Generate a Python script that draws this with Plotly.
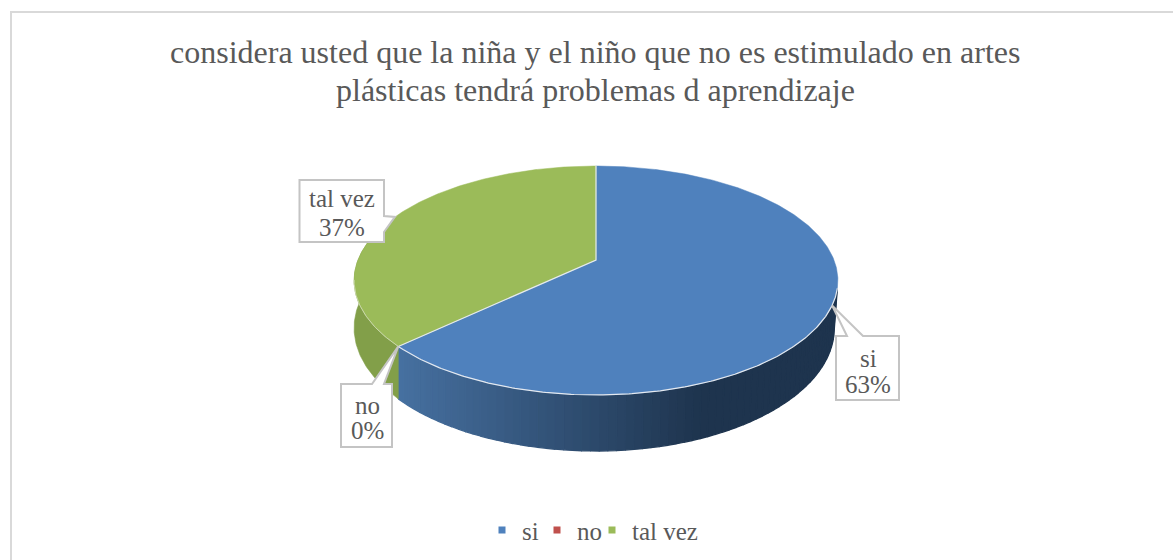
import math
import plotly.graph_objects as go

categories = ["si", "no", "tal vez"]
values = [63, 0, 37]
top_colors = ["#4f81bd", "#c0504d", "#9bbb59"]
title_lines = ["considera usted que la niña y el niño que no es estimulado en artes",
               "plásticas tendrá problemas d aprendizaje"]

W, H = 1173, 560
CX, CY = 596, 260
A, B, K = 238, 110.8, 0.179
DEPTH = 46
TEXT = "#595959"
SERIF = "Liberation Serif"


def project(theta, bottom=False):
    u, v = math.sin(theta), -math.cos(theta)
    s = 1 / (1 - K * v)
    if bottom:
        return CX + A * u * s * (0.985 if u > 0 else 1), CY + (B * v + DEPTH) * s
    return CX + A * u * s, CY + B * v * s


def arc(t0, t1, bottom=False, n=None):
    n = n or max(2, int(abs(t1 - t0) / 0.01))
    return [project(t0 + (t1 - t0) * i / n, bottom) for i in range(n + 1)]


def mix(c0, c1, f):
    return "rgb(%d,%d,%d)" % tuple(round(a + (b - a) * f) for a, b in zip(c0, c1))


total = sum(values)
angles = [0]
for val in values:
    angles.append(angles[-1] + 2 * math.pi * val / total)

fig = go.Figure()


def poly(pts, fill, width=1.3):
    fig.add_trace(go.Scatter(
        x=[p[0] for p in pts] + [pts[0][0]], y=[p[1] for p in pts] + [pts[0][1]],
        mode="lines", fill="toself", fillcolor=fill,
        line=dict(color=fill, width=width),
        hoverinfo="skip", showlegend=False))


def stroke(pts, color="#e4e9f0", width=1.2):
    fig.add_trace(go.Scatter(x=[p[0] for p in pts], y=[p[1] for p in pts], mode="lines",
                             line=dict(color=color, width=width),
                             hoverinfo="skip", showlegend=False))


# side wall, front half only
VIS0, VIS1 = math.radians(104), math.radians(285)
BLUE_L, BLUE_R = (70, 112, 160), (30, 52, 78)
s_end = angles[1]
n_side = 70
for i in range(n_side):
    t0 = VIS0 + (s_end - VIS0) * i / n_side
    t1 = VIS0 + (s_end - VIS0) * (i + 1) / n_side
    xm = project((t0 + t1) / 2)[0]
    f = min(1, max(0, (xm - 400) / (700 - 400)))
    poly(arc(t1, t0, True, n=3) + arc(t0, t1, n=3), mix(BLUE_R, BLUE_L, 1 - f))
poly(arc(angles[2], VIS1) + arc(VIS1, angles[2], True), "#829f49", 0.6)

# top faces
for i, cat in enumerate(categories):
    if values[i] == 0:
        continue
    poly([(CX, CY)] + arc(angles[i], angles[i + 1]), top_colors[i], 0.5)

# light edges: slice dividers and the front rim of the first slice
stroke([project(0), (CX, CY), project(angles[1])])
stroke(arc(math.radians(104), angles[1]))
stroke(arc(angles[1], math.radians(260)), "#d7e0c0", 0.8)

# legend entries (the blank ones keep the legend box wide enough not to clip the last label)
for cat, col in zip(categories, top_colors):
    fig.add_trace(go.Scatter(x=[None], y=[None], mode="markers", name=cat,
                             marker=dict(symbol="square", size=7, color=col)))
for blank in (" ", "  "):
    fig.add_trace(go.Scatter(x=[None], y=[None], mode="markers", name=blank,
                             marker=dict(symbol="square", size=7, color="rgba(0,0,0,0)")))

# outer chart frame
shapes = [dict(type="rect", xref="x", yref="y", x0=11, y0=12, x1=1200, y1=600,
               line=dict(color="#d9d9d9", width=2), fillcolor="rgba(0,0,0,0)", layer="below")]


def callout(box, apex, e0, e1, edge):
    x0, y0, x1, y1 = box
    if edge == "top":
        pts = [(x0, y0), (e0, y0), apex, (e1, y0), (x1, y0), (x1, y1), (x0, y1)]
    else:
        pts = [(x0, y0), (x1, y0), (x1, e0), apex, (x1, e1), (x1, y1), (x0, y1)]
    path = "M" + " L".join(f"{a:.1f},{b:.1f}" for a, b in pts) + " Z"
    shapes.append(dict(type="path", path=path, xref="x", yref="y",
                       fillcolor="white", line=dict(color="#c4c4c4", width=2), layer="above"))


callout((299.5, 180, 384, 242), project(angles[1] + 0.51 * (angles[3] - angles[1])), 216, 232, "right")
callout((341, 384, 392, 447), project(angles[1]), 372, 384, "top")
callout((836, 336, 899, 400), project(math.radians(112.5)), 847, 863, "top")

label_pos = {"si": (868, 358, 384), "no": (367, 405, 430), "tal vez": (342, 198, 227)}
annotations = []
for cat, val in zip(categories, values):
    x, y1, y2 = label_pos[cat]
    font = dict(family=SERIF, size=25, color=TEXT)
    annotations.append(dict(x=x, y=y1, xref="x", yref="y", showarrow=False, text=cat, font=font))
    annotations.append(dict(x=x, y=y2, xref="x", yref="y", showarrow=False,
                            text=f"{round(val / total * 100)}%", font=font))
for line, y in zip(title_lines, (52, 90)):
    annotations.append(dict(x=595, y=y, xref="x", yref="y", showarrow=False, text=line,
                            font=dict(family=SERIF, size=32, color=TEXT)))

fig.update_layout(
    width=W, height=H, margin=dict(l=0, r=0, t=0, b=0),
    paper_bgcolor="white", plot_bgcolor="white",
    xaxis=dict(range=[0, W], visible=False, fixedrange=True),
    yaxis=dict(range=[H, 0], visible=False, fixedrange=True),
    shapes=shapes, annotations=annotations,
    showlegend=True,
    legend=dict(orientation="h", x=482 / W, xanchor="left", y=0.012, yanchor="bottom",
                font=dict(family=SERIF, size=25, color=TEXT), itemwidth=30,
                entrywidth=10, entrywidthmode="pixels",
                bgcolor="rgba(0,0,0,0)"),
)
fig.write_html("out.html", config=dict(displayModeBar=False),
               post_script="document.body.style.margin='0';document.documentElement.style.overflow='hidden';")
